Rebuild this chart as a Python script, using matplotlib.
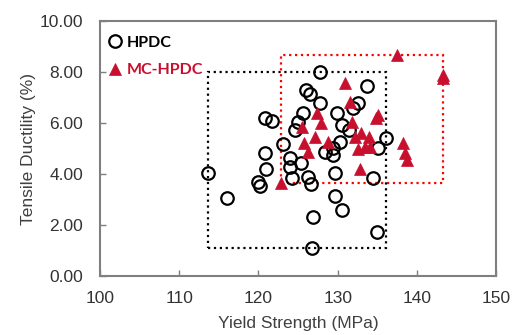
import matplotlib.pyplot as plt
from matplotlib.patches import Rectangle
from matplotlib.ticker import FormatStrFormatter

# HPDC (open circles)
hpdc_ys = [113.6, 116.0, 120.0, 120.2, 121.0, 120.8, 120.8, 121.7, 123.1, 124.0,
           124.0, 125.4, 124.2, 126.3, 126.6, 125.0, 124.6, 125.6, 126.0, 126.5,
           127.8, 127.8, 129.9, 130.5, 131.4, 130.3, 129.4, 128.4, 129.4, 133.7,
           132.6, 131.9, 136.1, 135.1, 134.5, 129.7, 129.7, 130.5, 126.9, 135.0,
           126.8]
hpdc_el = [4.04, 3.05, 3.70, 3.53, 4.18, 4.81, 6.18, 6.09, 5.18, 4.62,
           4.28, 4.45, 3.84, 3.89, 3.60, 6.04, 5.73, 6.39, 7.29, 7.16,
           6.78, 8.00, 6.39, 5.92, 5.73, 5.27, 5.02, 4.86, 4.75, 7.45,
           6.78, 6.59, 5.40, 5.01, 3.84, 4.05, 3.14, 2.59, 2.33, 1.74,
           1.11]

# MC-HPDC (filled triangles)
mc_ys = [137.5, 143.3, 143.3, 130.9, 131.5, 135.1, 134.8, 127.4, 127.9, 131.8,
         125.5, 127.1, 125.7, 126.3, 128.8, 132.2, 133.0, 133.9, 132.6, 133.5,
         134.1, 138.3, 138.5, 138.7, 132.8, 122.8]
mc_el = [8.68, 7.90, 7.75, 7.56, 6.84, 6.31, 6.18, 6.38, 6.02, 6.05,
         5.86, 5.46, 5.20, 4.87, 5.25, 5.46, 5.60, 5.46, 5.00, 5.07,
         5.07, 5.20, 4.81, 4.55, 4.18, 3.65]

red = '#C8102E'
grey = '#7F7F7F'

plt.rcParams['font.family'] = ['Liberation Sans', 'DejaVu Sans']

fig = plt.figure(figsize=(5.13, 3.35), dpi=100)
ax = fig.add_axes([0.195, 0.176, 0.772, 0.761])

# bounding boxes of each group
ax.add_patch(Rectangle((min(hpdc_ys), min(hpdc_el)), max(hpdc_ys) - min(hpdc_ys),
                       max(hpdc_el) - min(hpdc_el), fill=False, ls=':', lw=1.6,
                       ec='black', zorder=2))
ax.add_patch(Rectangle((min(mc_ys), min(mc_el)), max(mc_ys) - min(mc_ys),
                       max(mc_el) - min(mc_el), fill=False, ls=':', lw=1.6,
                       ec='#FF0000', zorder=2))

ax.plot(hpdc_ys, hpdc_el, 'o', ms=9, mfc='none', mec='black', mew=1.6,
        label='HPDC', zorder=3)
ax.plot(mc_ys, mc_el, '^', ms=8, mfc=red, mec=red, mew=0.5,
        label='MC-HPDC', zorder=4)

ax.set_xlim(100, 150)
ax.set_ylim(0, 10)
ax.set_xticks([100, 110, 120, 130, 140, 150])
ax.set_yticks([0, 2, 4, 6, 8, 10])
ax.yaxis.set_major_formatter(FormatStrFormatter('%.2f'))

for s in ax.spines.values():
    s.set_color(grey)
    s.set_linewidth(1.5)
ax.tick_params(direction='in', length=4, width=1, color=grey,
               labelsize=12.5, labelcolor='#333333')
ax.tick_params(axis='x', pad=11)
ax.tick_params(axis='y', pad=12)

ax.set_xlabel('Yield Strength (MPa)', fontsize=12.5, color='#404040', labelpad=7)
ax.set_ylabel('Tensile Ductility (%)', fontsize=12.5, color='#404040', labelpad=3)

leg = ax.legend(loc='upper left', bbox_to_anchor=(-0.01, 1.0), frameon=False,
                handlelength=0.6, handletextpad=0.4, labelspacing=0.85,
                prop={'family': 'Lato', 'weight': 'bold', 'size': 11.5})
leg.get_texts()[0].set_color('black')
leg.get_texts()[1].set_color(red)

fig.savefig('out.png', dpi=100)
